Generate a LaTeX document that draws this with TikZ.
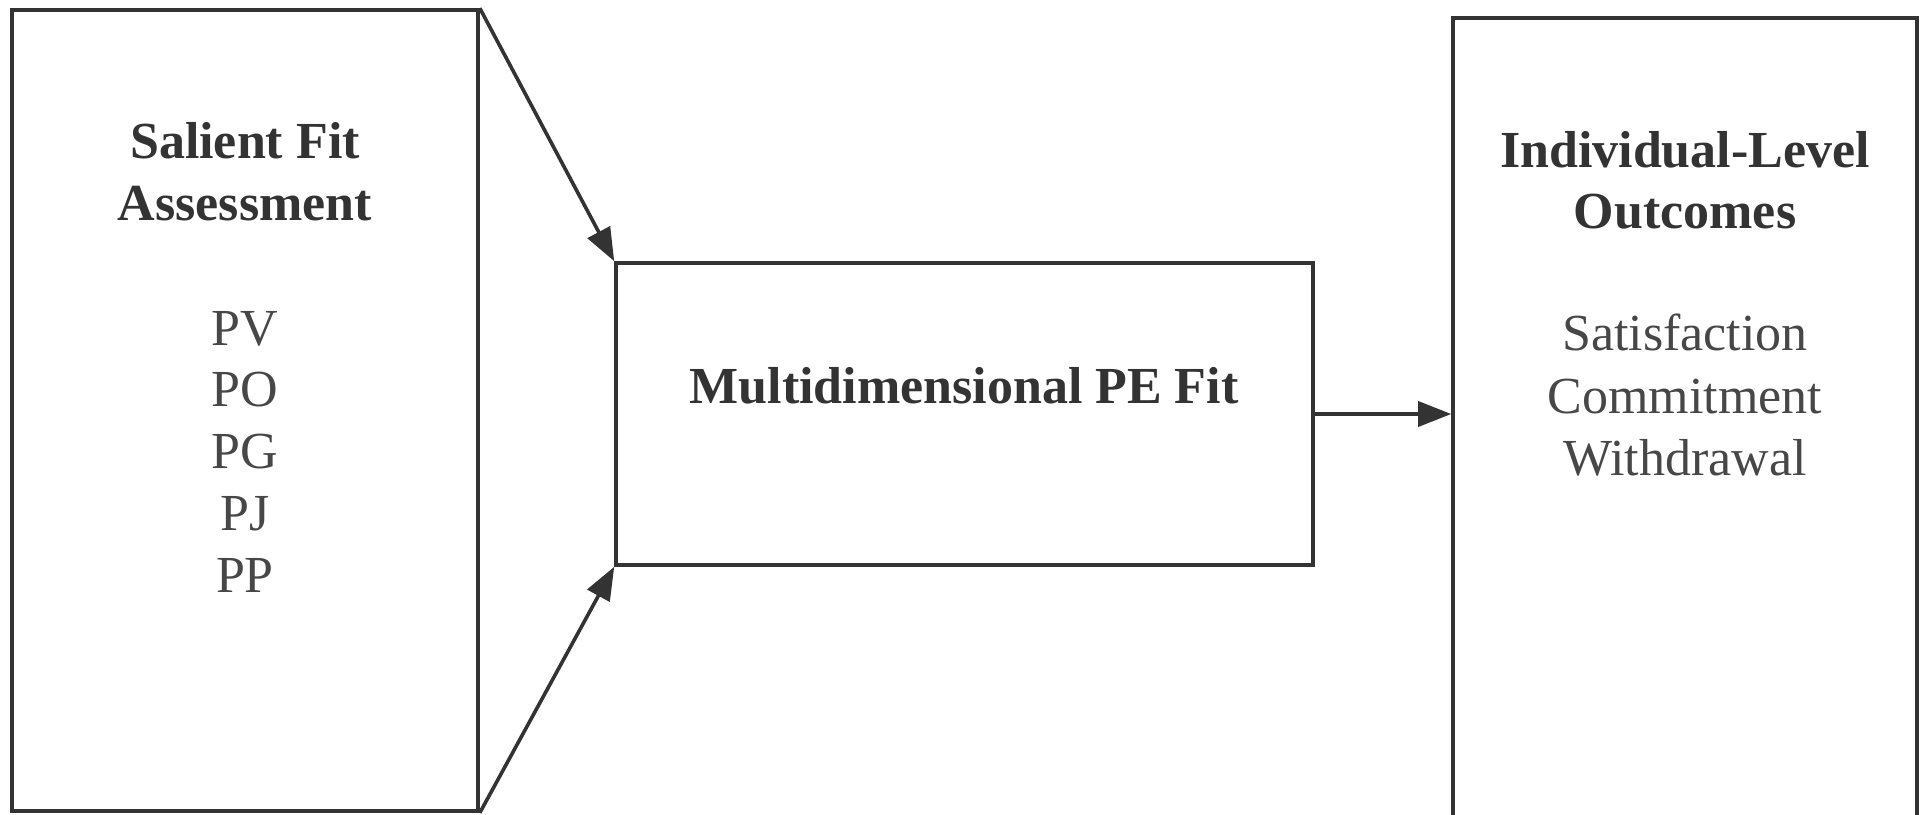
\documentclass[tikz,border=0pt]{standalone}
\usepackage{fontspec}
\setmainfont{Liberation Serif}
\usetikzlibrary{arrows.meta}
\definecolor{ink}{HTML}{333333}
\begin{document}
\begin{tikzpicture}[x=1pt,y=-1pt,
  box/.style={draw=ink, line width=3.6pt, inner sep=0pt},
  ttl/.style={font=\fontsize{52}{62}\selectfont\bfseries, text=ink, anchor=base, inner sep=0pt},
  itm/.style={font=\fontsize{52}{62}\selectfont, text=ink!90, anchor=base, inner sep=0pt},
  conn/.style={draw=ink, line width=3.6pt, -{Triangle[length=33pt,width=25pt]}}]
\useasboundingbox (0,0) rectangle (1926,814);
% boxes
\node[box, minimum width=466pt, minimum height=801pt] (sfa) at (245,410.5) {};
\node[box, minimum width=697pt, minimum height=302pt] (pe) at (964.5,414) {};
\node[box, minimum width=464pt, minimum height=820pt] (ilo) at (1685,428) {};
% left texts
\node[ttl] (sfa1) at (245,158) {Salient Fit};
\node[ttl] (sfa2) at (245,220) {Assessment};
\node[itm] (pv) at (245,345) {PV};
\node[itm] (po) at (245,406) {PO};
\node[itm] (pg) at (245,468) {PG};
\node[itm] (pj) at (245,530) {PJ};
\node[itm] (pp) at (245,592) {PP};
% middle text
\node[ttl] (pet) at (964,403) {Multidimensional PE Fit};
% right texts
\node[ttl] (ilo1) at (1685,167) {Individual-Level};
\node[ttl] (ilo2) at (1685,228) {Outcomes};
\node[itm] (sat) at (1685,350) {Satisfaction};
\node[itm] (com) at (1685,413) {Commitment};
\node[itm] (wdr) at (1685,475) {Withdrawal};
% connectors
\draw[conn] (sfa.north east) -- (pe.north west);
\draw[conn] (sfa.south east) -- (pe.south west);
\draw[conn] (pe.east) -- (pe.east -| ilo.west);
\end{tikzpicture}
\end{document}
